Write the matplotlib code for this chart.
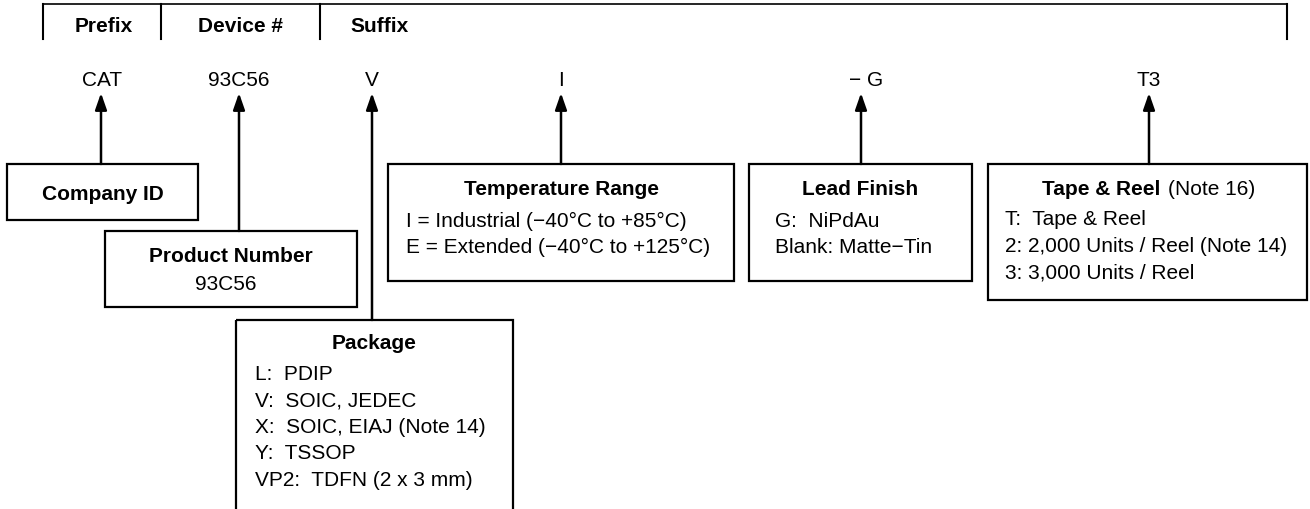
import matplotlib
matplotlib.use('Agg')
import matplotlib.pyplot as plt
from matplotlib.patches import Rectangle

plt.rcParams['font.family'] = ['Liberation Sans', 'DejaVu Sans']
FS = 15

# header bracket
headers = ['Prefix', 'Device #', 'Suffix']
header_x = [104, 241, 350]
header_ha = ['center', 'center', 'left']
bracket_ticks = [43, 161, 320, 1287]

# part number pieces and their arrows
codes = ['CAT', '93C56', 'V', 'I', '\u2212 G', 'T3']
code_x = [102, 239, 372, 561, 866, 1149]
arrow_x = [101, 239, 372, 561, 861, 1149]

# boxes: (left, top, right, bottom)
boxes = {
    'company': (7, 165, 198, 221),
    'product': (105, 232, 357, 308),
    'package': (236, 321, 513, 560),
    'temp': (388, 165, 734, 282),
    'lead': (749, 165, 972, 282),
    'tape': (988, 165, 1307, 301),
}
arrow_box = ['company', 'product', 'package', 'temp', 'lead', 'tape']

titles = {
    'company': 'Company ID',
    'product': 'Product Number',
    'package': 'Package',
    'temp': 'Temperature Range',
    'lead': 'Lead Finish',
}
title_y = {'company': 193, 'product': 255, 'package': 342, 'temp': 188, 'lead': 188}

package_lines = ['L:  PDIP', 'V:  SOIC, JEDEC', 'X:  SOIC, EIAJ (Note 14)',
                 'Y:  TSSOP', 'VP2:  TDFN (2 x 3 mm)']
temp_lines = ['I = Industrial (\u221240\u00b0C to +85\u00b0C)',
              'E = Extended (\u221240\u00b0C to +125\u00b0C)']
lead_lines = ['G:  NiPdAu', 'Blank: Matte\u2212Tin']
tape_lines = ['T:  Tape & Reel', '2: 2,000 Units / Reel (Note 14)', '3: 3,000 Units / Reel']

CAP = 7.5  # half cap height in px, to put text centre on a given y


def txt(x, y, s, ha='left', bold=False):
    ax.text(x, y + CAP, s, ha=ha, va='baseline', fontsize=FS,
            fontweight='bold' if bold else 'normal', color='black')


fig = plt.figure(figsize=(13.1, 5.1), dpi=100)
ax = fig.add_axes([0, 0, 1, 1])
ax.set_xlim(0, 1310)
ax.set_ylim(510, 0)
ax.axis('off')

# bracket on top
ax.plot([bracket_ticks[0], bracket_ticks[-1]], [5, 5], color='k', lw=1.2)
for bx in bracket_ticks:
    ax.plot([bx, bx], [5, 40], color='k', lw=1.5)
for h, hx, ha in zip(headers, header_x, header_ha):
    txt(hx, 25, h, ha=ha, bold=True)

# codes
for c, cx in zip(codes, code_x):
    txt(cx, 78, c, ha='center')

# boxes
for key, (l, t, r, b) in boxes.items():
    ax.add_patch(Rectangle((l, t), r - l, b - t, fill=False, ec='k', lw=1.6))

# arrows
for axx, key in zip(arrow_x, arrow_box):
    top = boxes[key][1]
    ax.annotate('', xy=(axx, 94), xytext=(axx, top),
                arrowprops=dict(arrowstyle='-|>,head_length=1.0,head_width=0.35',
                                lw=1.8, color='k', shrinkA=0, shrinkB=0,
                                mutation_scale=10))

# box titles
for key, s in titles.items():
    l, t, r, b = boxes[key]
    txt((l + r) / 2, title_y[key], s, ha='center', bold=True)
txt(226, 283, '93C56', ha='center')
txt(1160, 188, 'Tape & Reel', ha='right', bold=True)
txt(1168, 188, '(Note 16)', ha='left')

# box contents
for i, s in enumerate(package_lines):
    txt(255, 373 + i * 26.3, s)
for i, s in enumerate(temp_lines):
    txt(406, 220 + i * 26, s)
for i, s in enumerate(lead_lines):
    txt(775, 220 + i * 26, s)
for i, s in enumerate(tape_lines):
    txt(1005, 218 + i * 26.5, s)

fig.savefig('out.png', dpi=100)
